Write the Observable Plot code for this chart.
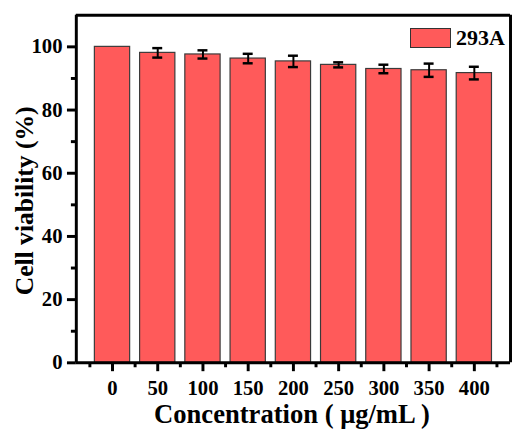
<!DOCTYPE html>
<html><head><meta charset="utf-8">
<script src="https://cdn.jsdelivr.net/npm/d3@7"></script>
<script src="https://cdn.jsdelivr.net/npm/@observablehq/plot@0.6"></script>
<style>
html,body{margin:0;padding:0;background:#fff;overflow:hidden;width:512px;height:437px}
#wrap{position:relative;width:512px;height:437px}
#legend{position:absolute;left:410px;top:25px;display:flex;align-items:center;font-family:"Liberation Serif","Times New Roman",serif;font-weight:bold;font-size:22px;color:#000}
#legend .sw{width:39px;height:18px;background:#FF5A5A;border:1.5px solid #333;margin-right:5px}
</style></head>
<body><div id="wrap"><div id="legend"><div class="sw"></div><span>293A</span></div></div>
<script>
const concentrations = [0, 50, 100, 150, 200, 250, 300, 350, 400];
const viability = [100, 98.1, 97.6, 96.3, 95.4, 94.3, 93.0, 92.6, 91.7];
const errors = [0, 1.5, 1.3, 1.5, 1.8, 0.8, 1.35, 2.1, 2.0];
const seriesName = "293A";
const yMajor = [0, 20, 40, 60, 80, 100];
const yMinor = [10, 30, 50, 70, 90];
const xMajor = [0, 50, 100, 150, 200, 250, 300, 350, 400];
const xMinor = [-25, 25, 75, 125, 175, 225, 275, 325, 375, 425];
const xTitle = "Concentration ( μg/mL )";
const yTitle = "Cell viability (%)";

const data = concentrations.map((c, i) => ({conc: c, v: viability[i], e: errors[i]}));
const halfBar = 19.5, halfCap = 5.5;
const font = "Liberation Serif, Times New Roman, serif";

const chart = Plot.plot({
  width: 520, height: 437,
  marginLeft: 77, marginRight: 2, marginTop: 15, marginBottom: 69,
  style: {fontFamily: font, fontWeight: "bold", fontSize: "21px", color: "#000", background: "transparent"},
  x: {domain: [-40, 440]},
  y: {domain: [0, 110]},
  marks: [
    Plot.rectY(data, {x1: d => d.conc - halfBar, x2: d => d.conc + halfBar, y1: 0, y2: "v", fill: "#FF5A5A", stroke: "#3a3a3a", strokeWidth: 1.2}),
    Plot.ruleX(data.filter(d => d.e > 0), {x: "conc", y1: d => d.v - d.e, y2: d => d.v + d.e, stroke: "#000", strokeWidth: 2}),
    Plot.ruleY(data.filter(d => d.e > 0), {y: d => d.v + d.e, x1: d => d.conc - halfCap, x2: d => d.conc + halfCap, stroke: "#000", strokeWidth: 2.5}),
    Plot.ruleY(data.filter(d => d.e > 0), {y: d => d.v - d.e, x1: d => d.conc - halfCap, x2: d => d.conc + halfCap, stroke: "#000", strokeWidth: 2.5}),
    Plot.axisY({ticks: yMajor, tickSize: 9, tickPadding: 5, strokeWidth: 3, fontSize: 21, label: null, tickFormat: d => String(d)}),
    Plot.axisY({ticks: yMinor, tickSize: 5, strokeWidth: 3, text: null, label: null}),
    Plot.axisX({ticks: xMajor, tickSize: 9, tickPadding: 9, strokeWidth: 3, fontSize: 21, label: null, tickFormat: d => String(d)}),
    Plot.axisX({ticks: xMinor, tickSize: 5, strokeWidth: 3, text: null, label: null}),
    Plot.ruleY([0], {stroke: "#000", strokeWidth: 3}),
    Plot.ruleY([110], {stroke: "#000", strokeWidth: 3}),
    Plot.ruleX([-40], {stroke: "#000", strokeWidth: 3}),
    Plot.ruleX([440], {stroke: "#000", strokeWidth: 3}),
    Plot.text([xTitle], {frameAnchor: "bottom", lineAnchor: "middle", textAnchor: "middle", dy: 52, dx: -1.5, fontSize: 27, fontWeight: "bold", fill: "#000"}),
    Plot.text([yTitle], {frameAnchor: "left", lineAnchor: "middle", textAnchor: "middle", rotate: -90, dx: -52, dy: 12, fontSize: 26, fontWeight: "bold", fill: "#000"})
  ]
});
chart.style.position = "absolute";
chart.style.left = "0px";
chart.style.top = "0px";
const wrap = document.getElementById("wrap");
wrap.insertBefore(chart, wrap.firstChild);
</script>
</body></html>
